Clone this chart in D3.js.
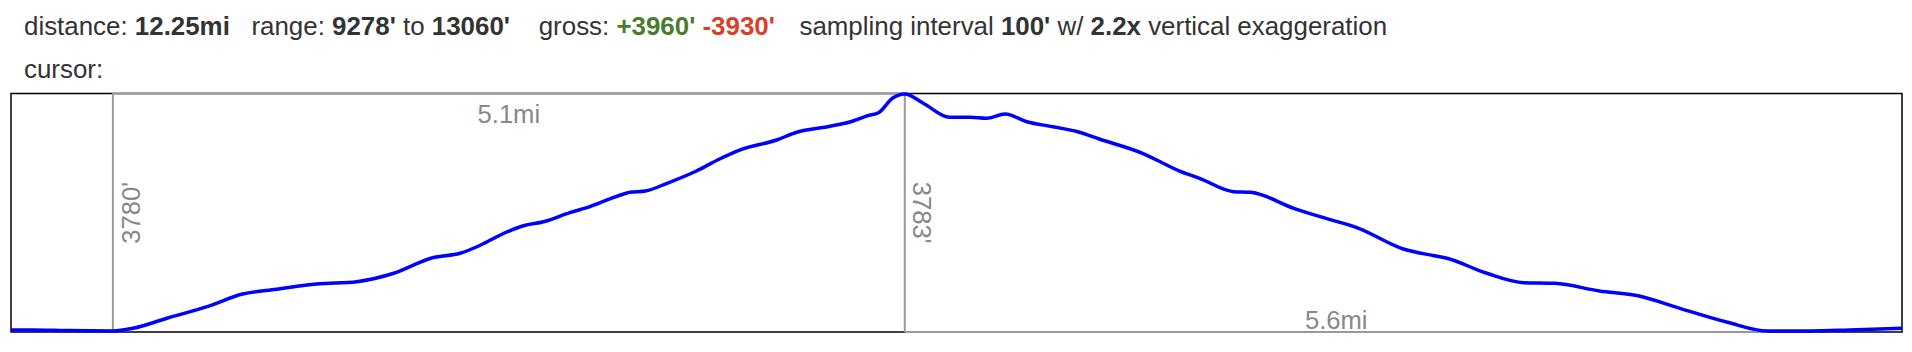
<!DOCTYPE html>
<html>
<head>
<meta charset="utf-8">
<title>Elevation profile</title>
<script src="https://cdn.jsdelivr.net/npm/d3@7"></script>
<style>
  body { margin: 0; background: #fff; }
  svg { display: block; font-family: "Liberation Sans", Arial, sans-serif; }
  .hdr { font-size: 25.9px; fill: #333; white-space: pre; }
  .hdr .b { font-weight: bold; }
  .note { font-size: 25.6px; fill: #888; }
</style>
</head>
<body>
<svg id="svg"></svg>
<script>
// track samples: distance along route (mi) and elevation (ft)
var miles = [0.00, 0.14, 0.36, 0.66, 0.79, 1.01, 1.27, 1.50, 1.72, 1.98,
             2.24, 2.48, 2.73, 2.91, 3.04, 3.17, 3.32, 3.45, 3.62, 3.75,
             3.93, 4.01, 4.11, 4.25, 4.44, 4.59, 4.72, 4.96, 5.09, 5.29,
             5.44, 5.55, 5.62, 5.71, 5.79, 5.91, 6.08, 6.21, 6.32, 6.44,
             6.58, 6.75, 6.91, 7.05, 7.33, 7.57, 7.70, 7.92, 8.03, 8.31,
             8.48, 8.73, 9.02, 9.22, 9.29, 9.56, 9.80, 10.00, 10.29, 10.54,
             10.81, 11.12, 11.38, 11.66, 11.91, 12.25];
var elevations = [9294, 9294, 9285, 9278, 9321, 9481, 9666, 9868, 9943, 10028,
                  10065, 10199, 10448, 10518, 10646, 10810, 10958, 11022, 11166, 11262,
                  11432, 11491, 11512, 11635, 11831, 12023, 12166, 12326, 12449, 12538,
                  12618, 12714, 12762, 12991, 13060, 12912, 12688, 12688, 12672, 12741,
                  12618, 12538, 12458, 12342, 12114, 11831, 11715, 11501, 11491, 11236,
                  11102, 10917, 10587, 10480, 10448, 10199, 10049, 10039, 9916, 9841,
                  9640, 9417, 9278, 9278, 9294, 9321];

// climb / descent brackets: start mile, end mile, length label, gain label
var segStart = [0.66, 5.79];
var segEnd = [5.79, 11.38];
var segDist = ["5.1mi", "5.6mi"];
var segGain = ["3780'", "3783'"];

// summary line
var totalDist = "12.25mi", minElev = "9278'", maxElev = "13060'";
var grossUp = "+3960'", grossDown = "-3930'";
var interval = "100'", exaggeration = "2.2x";

var width = 1912, height = 352,
    box = {left: 11, right: 1902, top: 93.5, bottom: 332};

var svg = d3.select("#svg").attr("width", width).attr("height", height);

// header text
var h1 = svg.append("text").attr("class", "hdr").attr("x", 24).attr("y", 35);
var parts = [
  ["distance: ", ""], [totalDist, "b"], ["   range: ", ""], [minElev, "b"],
  [" to ", ""], [maxElev, "b"], ["    gross: ", ""], [grossUp, "b", "#4a7d2b"],
  [" ", ""], [grossDown, "b", "#d7412c"], ["   sampling interval ", "", null, 3],
  [interval, "b"], [" w/ ", ""], [exaggeration, "b"], [" vertical exaggeration", ""]
];
parts.forEach(function(p) {
  var t = h1.append("tspan").attr("class", p[1]).text(p[0]);
  if (p[2]) t.style("fill", p[2]);
  if (p[3]) t.attr("dx", p[3]);
});
svg.append("text").attr("class", "hdr").attr("x", 24).attr("y", 78).text("cursor:");

var x = d3.scaleLinear().domain([0, 12.25]).range([box.left, box.right]);
var y = d3.scaleLinear().domain([9278, 13060]).range([331, 94]);

// frame
svg.append("rect")
  .attr("x", box.left).attr("y", box.top)
  .attr("width", box.right - box.left).attr("height", box.bottom - box.top)
  .attr("fill", "none").attr("stroke", "#000").attr("stroke-width", 1.5);

var g = svg.append("g");

// climb bracket: up, across top, down at summit
g.append("path")
  .attr("d", "M" + x(segStart[0]) + "," + box.bottom + "V" + box.top +
             "H" + x(segEnd[0]) + "V" + box.bottom)
  .attr("fill", "none").attr("stroke", "#999").attr("stroke-width", 2);
// descent bracket along bottom
g.append("path")
  .attr("d", "M" + x(segStart[1]) + "," + box.bottom + "H" + x(segEnd[1]))
  .attr("fill", "none").attr("stroke", "#999").attr("stroke-width", 2);

var pts = miles.map(function(m, i) { return [m, elevations[i]]; });
var line = d3.line()
  .x(function(d) { return x(d[0]); })
  .y(function(d) { return y(d[1]); })
  .curve(d3.curveMonotoneX);

svg.append("path")
  .datum(pts)
  .attr("d", line)
  .attr("fill", "none")
  .attr("stroke", "#0000ff")
  .attr("stroke-width", 3.5);

var midY = (box.top + box.bottom) / 2;

svg.append("text").attr("class", "note")
  .attr("x", (x(segStart[0]) + x(segEnd[0])) / 2).attr("y", box.top + 29)
  .attr("text-anchor", "middle").text(segDist[0]);
svg.append("text").attr("class", "note")
  .attr("transform", "translate(" + (x(segStart[0]) + 27) + "," + midY + ")rotate(-90)")
  .attr("text-anchor", "middle").text(segGain[0]);

svg.append("text").attr("class", "note")
  .attr("x", (x(segStart[1]) + x(segEnd[1])) / 2).attr("y", box.bottom - 3)
  .attr("text-anchor", "middle").text(segDist[1]);
svg.append("text").attr("class", "note")
  .attr("transform", "translate(" + (x(segStart[1]) + 8) + "," + midY + ")rotate(90)")
  .attr("text-anchor", "middle").text(segGain[1]);
</script>
</body>
</html>
